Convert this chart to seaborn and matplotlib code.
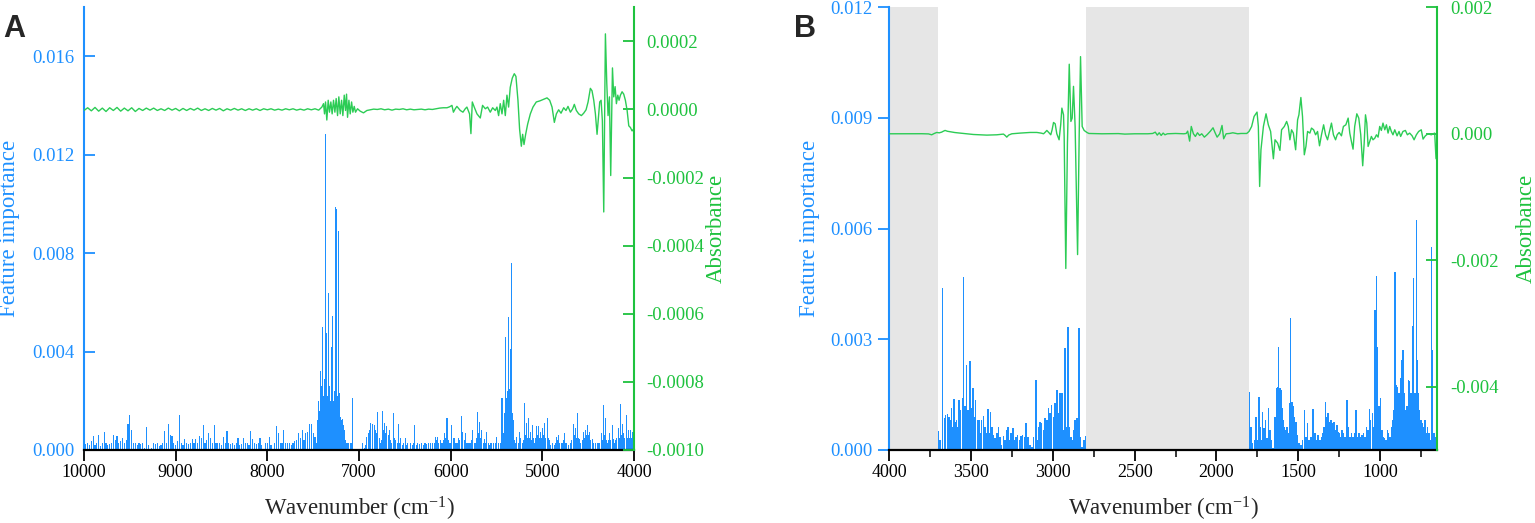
import matplotlib
matplotlib.use("Agg")
import numpy as np
import matplotlib.pyplot as plt
from matplotlib.ticker import FormatStrFormatter, MultipleLocator
import seaborn as sns

# ---- panel A (NIR): feature importance, values in units of 1e-3 ----
A_WN = [
    # 10000 - 8100
    10000, 9980, 9960, 9940, 9920, 9900, 9880, 9860, 9840, 9820,
    9800, 9780, 9760, 9740, 9720, 9700, 9680, 9660, 9640, 9620,
    9600, 9580, 9560, 9540, 9520, 9500, 9480, 9460, 9440, 9420,
    9400, 9380, 9360, 9340, 9320, 9300, 9280, 9260, 9240, 9220,
    9200, 9180, 9160, 9140, 9120, 9100, 9080, 9060, 9040, 9020,
    9000, 8980, 8960, 8940, 8920, 8900, 8880, 8860, 8840, 8820,
    8800, 8780, 8760, 8740, 8720, 8700, 8680, 8660, 8640, 8620,
    8600, 8580, 8560, 8540, 8520, 8500, 8480, 8460, 8440, 8420,
    8400, 8380, 8360, 8340, 8320, 8300, 8280, 8260, 8240, 8220,
    8200, 8180, 8160, 8140, 8120, 8100,
    # 8080 - 7460
    8080, 8060, 8040, 8020, 8000, 7980, 7960, 7940, 7920, 7900,
    7880, 7860, 7840, 7820, 7800, 7780, 7760, 7740, 7720, 7700,
    7680, 7660, 7640, 7620, 7600, 7580, 7560, 7540, 7520, 7500,
    7480, 7460,
    # dense band around 7300
    7451, 7442, 7432, 7423, 7412, 7403, 7394, 7386, 7380, 7371,
    7362, 7356, 7351, 7342, 7332, 7322, 7313, 7303, 7296, 7289,
    7280, 7271, 7263, 7256, 7249, 7242, 7235, 7227, 7220, 7212,
    7205, 7198, 7187, 7176, 7167, 7158, 7149, 7140, 7120, 7096,
    7085, 7074,
    # 6960 - 4000
    6957, 6945, 6932, 6914, 6896, 6882, 6870, 6858, 6848, 6834,
    6822, 6812, 6800, 6793, 6780, 6768, 6752, 6739, 6728, 6717,
    6706, 6696, 6680, 6666, 6655, 6645, 6623, 6612, 6601, 6585,
    6568, 6555, 6543, 6528, 6513, 6491, 6478, 6466, 6441, 6420,
    6405, 6390, 6375, 6360, 6340, 6320, 6300, 6280, 6260, 6240,
    6220, 6200, 6180, 6164, 6152, 6142, 6128, 6113, 6100, 6088,
    6076, 6066, 6052, 6040, 6029, 6018, 6005, 5986, 5973, 5961,
    5950, 5939, 5926, 5914, 5900, 5885, 5875, 5866, 5853, 5841,
    5828, 5815, 5800, 5786, 5770, 5757, 5745, 5732, 5718, 5703,
    5694, 5684, 5670, 5659, 5645, 5630, 5617, 5604, 5590, 5580,
    5568, 5550, 5531, 5512, 5495, 5478, 5459, 5450, 5440, 5431,
    5422, 5413, 5404, 5395, 5386, 5375, 5364, 5355, 5346, 5338,
    5331, 5322, 5313, 5304, 5295, 5286, 5277, 5264, 5251, 5242,
    5233, 5220, 5206, 5193, 5184, 5175, 5164, 5153, 5142, 5131,
    5120, 5109, 5098, 5087, 5076, 5066, 5055, 5044, 5033, 5022,
    5011, 5000, 4989, 4978, 4963, 4949, 4938, 4927, 4910, 4894,
    4870, 4858, 4847, 4835, 4822, 4810, 4796, 4780, 4768, 4756,
    4744, 4731, 4712, 4694, 4680, 4665, 4654, 4643, 4632, 4621,
    4610, 4600, 4585, 4567, 4558, 4549, 4538, 4527, 4516, 4505,
    4494, 4483, 4470, 4458, 4440, 4421, 4403, 4385, 4372, 4359,
    4345, 4330, 4319, 4308, 4297, 4287, 4276, 4265, 4252, 4239,
    4230, 4221, 4210, 4199, 4186, 4174, 4161, 4148, 4139, 4130,
    4121, 4112, 4099, 4086, 4075, 4064, 4052, 4039, 4030, 4021,
    4010,
]
A_IMP = [
    0.3, 0.25, 0.3, 0.2, 0.35, 0.55, 0.2, 0.3, 0.6, 0.15,
    0.3, 0.72, 0.3, 0.2, 0.25, 0.3, 0.62, 0.4, 0.58, 0.3,
    0.35, 0.5, 0.3, 0.4, 1.06, 1.43, 0.8, 0.3, 0.27, 0.2,
    0.3, 0.25, 0.3, 0.1, 0.95, 0.2, 0.0, 0.1, 0.3, 0.25,
    0.3, 0.15, 0.2, 0.3, 0.77, 0.3, 1.06, 0.6, 0.55, 0.3,
    0.2, 0.35, 1.43, 0.3, 0.2, 0.46, 0.3, 0.25, 0.3, 0.45,
    0.3, 0.45, 0.3, 0.55, 0.5, 1.0, 0.3, 0.4, 0.68, 0.5,
    0.3, 1.0, 0.27, 0.3, 0.27, 0.2, 0.54, 0.3, 0.79, 0.3,
    0.25, 0.27, 0.2, 0.3, 0.5, 0.2, 0.25, 0.5, 0.27, 0.3,
    0.2, 0.79, 0.45, 0.3, 0.25, 0.27,
    0.5, 0.2, 0.0, 0.27, 0.3, 0.54, 0.2, 0.0, 0.3, 0.97,
    0.68, 0.27, 0.3, 0.8, 0.27, 0.27, 0.3, 0.2, 0.27, 0.35,
    0.4, 0.7, 0.5, 0.8, 0.4, 0.68, 0.75, 1.05, 1.05, 0.7,
    0.54, 0.27,
    1.2, 2.0, 1.6, 3.2, 2.6, 1.9, 5.0, 2.2, 2.9, 2.0,
    12.86, 2.5, 4.75, 2.2, 6.4, 2.6, 2.0, 4.2, 2.4, 5.45,
    2.0, 2.4, 2.0, 9.9, 2.6, 9.8, 2.2, 8.9, 2.0, 2.3,
    1.2, 1.35, 1.2, 1.28, 1.0, 0.8, 0.4, 0.27, 0.27, 0.27,
    0.27, 2.1,
    0.3, 0.1, 0.2, 0.54, 0.7, 0.8, 1.1, 0.9, 1.05, 1.0,
    0.8, 0.68, 0.6, 1.55, 0.5, 0.27, 0.4, 1.6, 0.8, 1.1,
    0.7, 0.98, 0.6, 0.8, 0.4, 0.27, 1.5, 0.5, 0.4, 0.3,
    1.05, 0.3, 0.5, 0.2, 0.27, 0.5, 0.2, 0.27, 0.27, 0.2,
    0.3, 1.0, 0.2, 0.27, 0.25, 0.27, 0.2, 0.27, 0.25, 0.27,
    0.3, 0.27, 0.3, 0.54, 0.4, 0.54, 0.3, 0.4, 0.3, 0.27,
    0.4, 0.68, 0.5, 1.3, 0.4, 0.27, 0.3, 1.02, 0.5, 0.47,
    0.3, 0.27, 0.3, 0.5, 0.4, 1.4, 0.5, 0.75, 0.4, 0.68,
    0.3, 0.27, 0.3, 0.27, 0.4, 0.8, 0.3, 0.27, 0.5, 1.55,
    0.7, 1.15, 0.5, 0.8, 0.3, 0.43, 0.3, 0.75, 0.3, 0.2,
    0.27, 0.3, 0.27, 0.3, 0.52, 0.3, 0.27, 0.5, 2.1, 0.8,
    0.68, 1.5, 4.6, 1.6, 2.1, 2.4, 5.4, 2.5, 4.1, 2.6,
    7.6, 1.5, 1.2, 0.4, 0.27, 0.3, 0.54, 0.3, 0.75, 0.4,
    0.47, 0.3, 0.4, 1.9, 0.6, 1.1, 0.5, 1.3, 0.5, 0.75,
    0.4, 1.02, 0.5, 0.27, 0.5, 0.98, 0.6, 0.98, 0.5, 0.75,
    0.5, 0.88, 0.6, 1.1, 0.5, 1.3, 0.5, 0.4, 0.2, 0.27,
    0.2, 0.3, 0.54, 0.4, 0.61, 0.3, 0.27, 0.3, 0.4, 0.68,
    0.3, 0.27, 0.2, 0.27, 0.4, 1.05, 0.6, 0.88, 0.5, 1.5,
    0.5, 0.43, 0.3, 0.27, 0.4, 0.75, 0.5, 0.82, 0.6, 1.02,
    0.6, 0.75, 0.4, 0.43, 0.3, 0.27, 0.3, 0.27, 0.3, 0.68,
    0.4, 1.83, 0.6, 1.3, 0.4, 0.27, 0.4, 0.68, 0.4, 1.02,
    0.5, 0.43, 0.3, 0.4, 0.5, 0.88, 0.5, 1.86, 0.6, 1.06,
    0.5, 0.68, 0.5, 1.43, 0.5, 0.82, 0.5, 0.82, 0.5, 0.75,
    0.6,
]

# ---- panel A: absorbance spectrum, values in units of 1e-6 ----
A_ABS_WN = [
    10000, 9960, 9920, 9880, 9840, 9800, 9760, 9720, 9680, 9640,
    9600, 9560, 9520, 9480, 9440, 9400, 9360, 9320, 9280, 9240,
    9200, 9160, 9120, 9080, 9040, 9000, 8960, 8920, 8880, 8840,
    8800, 8760, 8720, 8680, 8640, 8600, 8560, 8520, 8480, 8440,
    8400, 8360, 8320, 8280, 8240, 8200, 8160, 8120, 8080, 8040,
    8000, 7960, 7920, 7880, 7840, 7800, 7760, 7720, 7680, 7640,
    7600, 7560, 7520, 7480, 7440,
    7405, 7387, 7376, 7365, 7351, 7336, 7322, 7307, 7293, 7278,
    7263, 7249, 7234, 7220, 7205, 7190, 7176, 7161, 7147, 7136,
    7125, 7110, 7096, 7081, 7067, 7052, 7038, 7016, 6987, 6951,
    6914, 6878, 6840, 6800, 6760, 6720, 6680, 6640, 6600, 6560,
    6520, 6480, 6440, 6400, 6360, 6320, 6280, 6240, 6200, 6160,
    6120, 6080, 6040, 6010, 5986, 5970, 5950, 5932, 5895, 5866,
    5841, 5823, 5794, 5779, 5764, 5743, 5713, 5677, 5652, 5622,
    5597, 5568, 5542, 5513, 5495, 5477, 5459, 5440, 5422, 5404,
    5386, 5368, 5350, 5328, 5306, 5288, 5266, 5248, 5229, 5215,
    5200, 5182, 5160, 5131, 5102, 5066, 5029, 4993, 4949, 4920,
    4894, 4869, 4847, 4822, 4796, 4767, 4742, 4720, 4694, 4669,
    4651, 4629, 4603, 4574, 4549, 4523, 4501, 4476, 4458, 4439,
    4421, 4403, 4388, 4374, 4359, 4345, 4330, 4312, 4297, 4283,
    4268, 4254, 4235, 4221, 4206, 4192, 4177, 4163, 4148, 4130,
    4112, 4094, 4075, 4057, 4039, 4021, 4006,
]
A_ABS = [
    -3, 5, -4, 6, -5, 4, -6, 5, -3, 6,
    -5, 4, -4, 5, -6, 3, -3, 4, -2, 4,
    -3, 2, -3, 4, -2, 3, -4, 3, -3, 3,
    -2, 4, -3, 2, -3, 3, -2, 3, -4, 2,
    -2, 3, -2, 2, -3, 2, -2, 2, -3, 2,
    -1, 2, -2, 1, -2, 2, -1, 2, -2, 1,
    -2, 2, -1, 2, -2,
    7, 17, -13, 22, -31, 27, -8, 22, -13, 27,
    -8, 32, -18, 37, -13, 27, -18, 42, -3, 45,
    -23, 27, -13, 22, -8, 9, -8, 2, -5, -10,
    -3, -1, 1, 0, 2, -1, 1, -2, 1, 0,
    2, -1, 1, -1, 0, 1, -1, 1, 0, 2,
    4, 5, 5, 8, 12, -8, 2, 9, -3, -8,
    2, 7, -13, -71, 22, 7, -13, -25, 12, 2,
    7, -8, 5, -3, 7, -18, 17, -13, 27, -18,
    42, 7, 65, 92, 105, 97, 27, -58, -108, -73,
    -103, -73, -43, -13, 7, 22, 25, 29, 34, 27,
    7, -38, -13, -1, -11, 5, -3, 9, -8, 2,
    15, -3, -13, -18, -11, -1, 22, 62, 55, 27,
    -13, -73, -23, 22, 27, -33, -301, 222, 77, -18,
    37, -194, 122, 37, 67, 17, 42, 27, 42, 52,
    45, 27, -3, -48, -53, -63, -58,
]

# ---- panel B (MIR): feature importance, units of 1e-4 ----
B_WN = [
    3700, 3690, 3674, 3664, 3655, 3645, 3635, 3627, 3621, 3613,
    3604, 3596, 3588, 3582, 3574, 3564, 3553, 3547, 3537, 3527,
    3518, 3508, 3498, 3488, 3480, 3472, 3461, 3451, 3441, 3435,
    3425, 3415, 3404, 3396, 3388, 3380, 3372, 3364, 3353, 3343,
    3333, 3323, 3313, 3303, 3292, 3282, 3274, 3266, 3255, 3245,
    3235, 3225, 3215, 3204, 3196, 3186, 3174, 3164, 3152, 3139,
    3129, 3119, 3104, 3098, 3088, 3078, 3068, 3057, 3047, 3037,
    3027, 3017, 3007, 2996, 2986, 2976, 2966, 2956, 2945, 2935,
    2925, 2915, 2907, 2899, 2890, 2882, 2874, 2864, 2854, 2847,
    2839, 2831, 2821, 2811, 2802,
    1797, 1789, 1781, 1769, 1758, 1750, 1740, 1732, 1726, 1718,
    1710, 1699, 1691, 1681, 1673, 1663, 1653, 1642, 1634, 1626,
    1620, 1612, 1606, 1600, 1591, 1585, 1577, 1569, 1561, 1555,
    1547, 1539, 1530, 1522, 1514, 1506, 1496, 1484, 1474, 1463,
    1453, 1443, 1435, 1425, 1417, 1409, 1399, 1388, 1378, 1368,
    1358, 1350, 1342, 1333, 1325, 1317, 1307, 1299, 1291, 1281,
    1272, 1264, 1256, 1248, 1240, 1232, 1224, 1213, 1201, 1193,
    1185, 1175, 1165, 1154, 1146, 1138, 1130, 1120, 1109, 1101,
    1093, 1083, 1073, 1065, 1057, 1047, 1039, 1030, 1022, 1014,
    1006, 998, 989, 981, 973, 965, 955, 947, 938, 928,
    922, 916, 908, 900, 892, 884, 876, 868, 860, 851,
    843, 835, 827, 819, 811, 803, 795, 786, 778, 772,
    766, 758, 750, 742, 734, 726, 718, 710, 702, 696,
    687, 679, 671, 663,
]
B_IMP = [
    5.2, 2.7, 44.0, 8.6, 9.5, 9.7, 9.0, 8.1, 11.3, 6.3,
    13.7, 7.7, 8.1, 6.3, 13.6, 10.8, 14.0, 46.8, 11.8, 23.0,
    10.8, 24.0, 11.3, 16.7, 9.0, 13.6, 8.1, 8.1, 4.5, 8.1,
    9.2, 6.3, 4.5, 11.0, 4.5, 10.4, 6.3, 4.1, 3.2, 4.5,
    6.3, 3.6, 1.4, 3.8, 2.7, 5.4, 6.1, 2.7, 4.7, 5.9,
    2.7, 3.6, 4.1, 2.7, 3.8, 4.1, 3.6, 7.2, 3.6, 1.4,
    0.9, 3.6, 19.0, 2.7, 6.3, 7.7, 7.2, 5.4, 8.6, 8.1,
    11.3, 9.9, 12.2, 9.0, 12.7, 16.3, 10.0, 15.4, 15.4, 5.4,
    27.6, 6.3, 33.4, 6.3, 3.6, 2.7, 5.4, 8.1, 8.8, 2.7,
    33.0, 3.6, 0.9, 2.7, 3.8,
    15.8, 6.3, 1.8, 2.7, 8.9, 2.7, 14.3, 6.3, 2.7, 10.2,
    5.9, 8.1, 3.2, 11.5, 5.4, 2.7, 0.5, 9.0, 16.7, 17.2,
    28.0, 16.7, 16.3, 11.3, 8.1, 6.3, 5.4, 6.3, 4.5, 12.7,
    35.7, 13.1, 11.8, 9.0, 7.7, 4.1, 1.8, 1.4, 2.7, 10.8,
    3.6, 7.2, 2.7, 3.6, 3.6, 11.0, 4.5, 2.7, 4.1, 2.7,
    3.6, 4.5, 6.3, 13.1, 9.0, 9.9, 7.7, 8.1, 7.2, 7.7,
    5.4, 6.8, 5.0, 4.5, 3.6, 5.4, 4.5, 3.6, 13.6, 6.3,
    3.6, 4.5, 3.6, 4.5, 10.8, 3.6, 4.5, 3.6, 4.1, 4.5,
    3.6, 6.3, 5.4, 11.0, 8.1, 9.9, 6.3, 38.0, 47.2, 28.0,
    11.8, 14.0, 5.4, 3.6, 3.2, 2.7, 5.4, 4.5, 3.6, 6.3,
    8.1, 10.8, 48.3, 17.6, 17.2, 15.4, 19.4, 24.4, 27.1, 15.4,
    10.8, 11.8, 19.0, 18.8, 15.4, 33.6, 46.6, 15.4, 62.4, 24.4,
    15.4, 10.8, 8.1, 7.2, 6.3, 8.1, 4.5, 6.3, 4.5, 2.7,
    54.9, 27.1, 4.5, 3.6,
]

# ---- panel B: absorbance spectrum, units of 1e-6 ----
B_ABS_WN = [
    4000, 3900, 3800, 3760, 3741, 3725, 3710, 3695, 3680, 3670,
    3659, 3645, 3629, 3600, 3568, 3530, 3486, 3440, 3404, 3370,
    3343, 3320, 3302, 3290, 3282, 3270, 3251, 3200, 3170, 3139,
    3098, 3070, 3057, 3045, 3037, 3025, 3013, 3005, 2996, 2986,
    2976, 2962, 2952, 2945, 2935, 2931, 2921, 2911, 2900, 2890,
    2882, 2874, 2864, 2849, 2839, 2831, 2821, 2809, 2792, 2780,
    2700, 2600, 2560, 2500, 2420, 2390, 2374, 2362, 2350, 2338,
    2326, 2315, 2300, 2250, 2200, 2185, 2176, 2164, 2154, 2141,
    2129, 2116, 2103, 2090, 2074, 2056, 2037, 2021, 2010, 1996,
    1980, 1966, 1956, 1941, 1920, 1900, 1870, 1850, 1815, 1801,
    1785, 1770, 1752, 1744, 1736, 1728, 1713, 1697, 1683, 1669,
    1652, 1642, 1626, 1612, 1602, 1585, 1571, 1561, 1551, 1541,
    1530, 1516, 1504, 1496, 1484, 1474, 1463, 1453, 1443, 1429,
    1419, 1406, 1394, 1382, 1370, 1358, 1345, 1333, 1321, 1309,
    1297, 1285, 1272, 1262, 1250, 1236, 1224, 1209, 1195, 1185,
    1175, 1165, 1155, 1142, 1130, 1118, 1106, 1097, 1089, 1081,
    1073, 1063, 1053, 1043, 1032, 1022, 1012, 1002, 992, 982,
    971, 961, 951, 941, 931, 921, 910, 896, 884, 874,
    860, 845, 833, 819, 804, 792, 778, 764, 748, 737,
    723, 707, 687, 675, 666, 658, 652,
]
B_ABS = [
    0, 0, 1, -2, -16, 5, 21, 15, 26, 40,
    53, 40, 32, 20, 11, 0, -11, -16, -21, -18,
    -16, -10, -5, -30, -53, -20, 0, 11, 16, 21,
    21, 10, 0, 30, 53, 20, -16, 60, 179, 158,
    0, -95, 150, 406, 300, -42, -2130, -148, 1100, 195,
    248, 750, 116, -1910, 11, 1220, 116, 53, 21, 5,
    0, 3, -5, 0, 0, 5, 26, -21, 16, -26,
    11, -16, 0, 5, 0, 5, 42, -116, 116, 0,
    -42, 16, -26, 0, -53, -11, 42, 95, 26, -53,
    0, 132, -79, 0, 5, 16, 0, 5, 5, 37,
    116, 274, 343, 116, -833, -253, 116, 316, 142, 37,
    -395, -95, -148, -263, 63, 116, 195, 116, -95, 63,
    11, -253, 221, 300, 574, 274, -332, -200, 37, 11,
    90, 63, -16, 37, -190, -16, 142, -16, -95, 37,
    169, -16, -95, -16, 21, -32, 116, 142, 248, 11,
    -121, -243, 116, 316, 248, -16, -506, -148, 300, 169,
    -200, -121, -42, -95, -69, -16, -53, 116, 53, 169,
    63, 142, 11, 116, 37, -16, 63, -32, 37, -42,
    37, 53, -16, 11, -32, -95, -16, 37, 63, -84,
    -32, 0, -16, 0, 11, -390, -410,
]

B_EXCLUDED = [(4000, 3700), (2800, 1800)]

assert len(A_WN) == len(A_IMP)
assert len(A_ABS_WN) == len(A_ABS)
assert len(B_WN) == len(B_IMP)
assert len(B_ABS_WN) == len(B_ABS)

BLUE = "#1e90ff"
GREEN = "#1ec23e"
LINE_GREEN = "#2ccc55"
GREY = "#e6e6e6"

sns.set_style("white")
plt.rcParams["font.family"] = ["Liberation Serif", "DejaVu Serif"]
plt.rcParams["axes.unicode_minus"] = False
plt.rcParams["mathtext.fontset"] = "custom"
plt.rcParams["mathtext.rm"] = "Liberation Serif"
plt.rcParams["mathtext.it"] = "Liberation Serif:italic"

W, H = 1535, 523
fig = plt.figure(figsize=(W / 100, H / 100), dpi=100)


def style_pair(ax, ax2, left_dir):
    for s in ["top", "right"]:
        ax.spines[s].set_visible(False)
    for s in ["top", "left", "bottom"]:
        ax2.spines[s].set_visible(False)
    ax.spines["left"].set_color(BLUE)
    ax.spines["left"].set_linewidth(1.5)
    ax.spines["bottom"].set_color("black")
    ax.spines["bottom"].set_linewidth(1.6)
    ax2.spines["right"].set_color(GREEN)
    ax2.spines["right"].set_linewidth(1.5)
    ax.tick_params(axis="x", which="major", bottom=True, direction="out",
                   length=8, width=1.3, colors="black", labelsize=13, pad=2)
    ax.tick_params(axis="x", which="minor", bottom=True, direction="out",
                   length=5, width=1.1, colors="black")
    ax.tick_params(axis="y", left=True, direction=left_dir, length=8, width=1.3,
                   colors=BLUE, labelsize=13.5, pad=7 if left_dir == "in" else 4)
    ax2.tick_params(axis="y", right=True, direction="in", length=8, width=1.3,
                    colors=GREEN, labelsize=13.5, pad=9)
    ax.grid(False)
    ax2.grid(False)


# ---------------- panel A ----------------
axA = fig.add_axes([84 / W, 73 / H, 550 / W, 442.7 / H])
axA.bar(A_WN, np.array(A_IMP) * 1e-3, width=11, color=BLUE, linewidth=0)
axA2 = axA.twinx()
sns.lineplot(x=A_ABS_WN, y=np.array(A_ABS) * 1e-6, ax=axA2, color=LINE_GREEN,
             linewidth=1.0, estimator=None, legend=False)
axA.set_xlim(10000, 4000)
axA.set_ylim(0, 0.018)
axA.set_xticks([10000, 9000, 8000, 7000, 6000, 5000, 4000])
axA.set_yticks([0, 0.004, 0.008, 0.012, 0.016])
axA.yaxis.set_major_formatter(FormatStrFormatter("%.3f"))
axA2.set_ylim(-0.001, 0.0003)
axA2.set_yticks([-0.001, -0.0008, -0.0006, -0.0004, -0.0002, 0, 0.0002])
axA2.yaxis.set_major_formatter(FormatStrFormatter("%.4f"))
axA2.set_ylabel("")
style_pair(axA, axA2, "in")

# ---------------- panel B ----------------
axB = fig.add_axes([889.3 / W, 73 / H, 548 / W, 442.7 / H])
for lo, hi in B_EXCLUDED:
    axB.axvspan(hi, lo, color=GREY, linewidth=0, zorder=0)
axB.bar(B_WN, np.array(B_IMP) * 1e-4, width=9, color=BLUE, linewidth=0, zorder=2)
axB2 = axB.twinx()
sns.lineplot(x=B_ABS_WN, y=np.array(B_ABS) * 1e-6, ax=axB2, color=LINE_GREEN,
             linewidth=1.0, estimator=None, legend=False)
axB.set_xlim(4000, 650)
axB.set_ylim(0, 0.012)
axB.xaxis.set_major_locator(MultipleLocator(500))
axB.xaxis.set_minor_locator(MultipleLocator(250))
axB.set_yticks([0, 0.003, 0.006, 0.009, 0.012])
axB.yaxis.set_major_formatter(FormatStrFormatter("%.3f"))
axB2.set_ylim(-0.005, 0.002)
axB2.set_yticks([-0.004, -0.002, 0, 0.002])
axB2.yaxis.set_major_formatter(FormatStrFormatter("%.3f"))
axB2.set_ylabel("")
style_pair(axB, axB2, "out")

# ---------------- labels ----------------
lab = dict(fontsize=16.5, rotation=90, ha="center", va="center")
fig.text(10 / W, 1 - 228.6 / H, "Feature importance", color=BLUE, **lab)
fig.text(716 / W, 1 - 228.6 / H, "Absorbance", color=GREEN, **lab)
fig.text(809 / W, 1 - 228.6 / H, "Feature importance", color=BLUE, **lab)
fig.text(1526 / W, 1 - 228.6 / H, "Absorbance", color=GREEN, **lab)
fig.text(359 / W, 1 - 509 / H, "Wavenumber (cm$^{-1}$)", fontsize=16.5,
         ha="center", va="center")
fig.text(1163 / W, 1 - 509 / H, "Wavenumber (cm$^{-1}$)", fontsize=16.5,
         ha="center", va="center")
letter = dict(fontsize=22, fontweight="bold", ha="left", va="baseline",
              family=["Liberation Sans", "DejaVu Sans"])
fig.text(3 / W, 1 - 37 / H, "A", **letter)
fig.text(794 / W, 1 - 37 / H, "B", **letter)

fig.savefig("out.png", dpi=100)
